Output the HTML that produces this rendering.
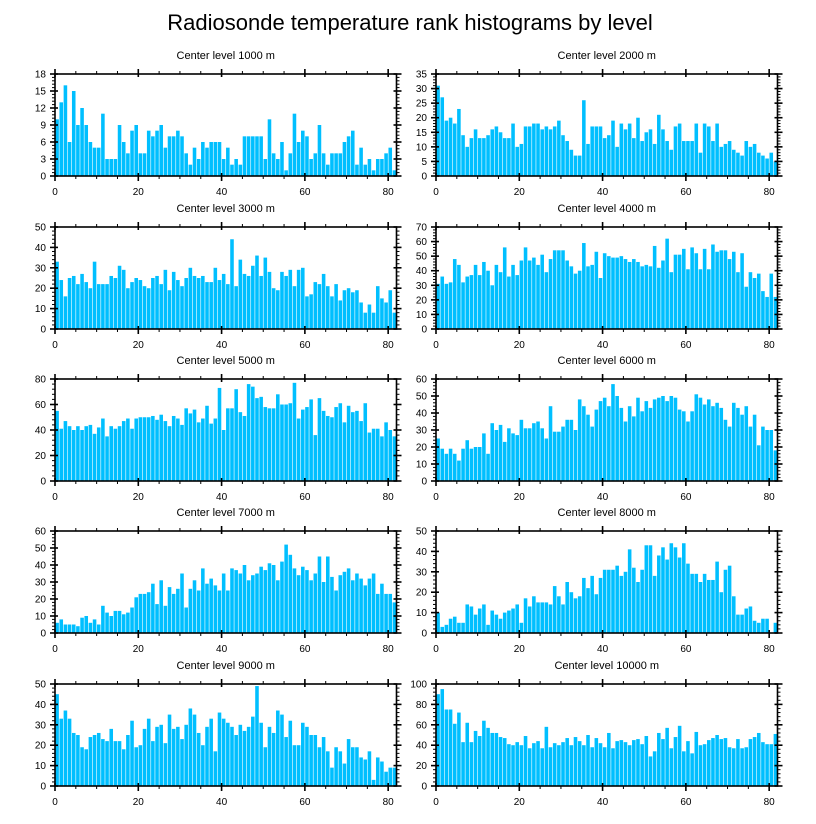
<!DOCTYPE html>
<html><head><meta charset="utf-8"><style>
body{margin:0;background:#fff;}
svg{display:block;font-family:"Liberation Sans",Arial,sans-serif;}
</style></head><body>
<svg id="chart" width="816" height="824" viewBox="0 0 816 824" xmlns="http://www.w3.org/2000/svg">
<text x="410" y="30" font-size="22" text-anchor="middle">Radiosonde temperature rank histograms by level</text>
</svg>
<script>
const levels = ["1000","2000","3000","4000","5000","6000","7000","8000","9000","10000"];
const yMaxes = [18,35,50,70,80,60,60,50,50,100];
const ySteps = [3,5,10,10,20,10,10,10,10,20];
const xTicks = [0,20,40,60,80];
const c1000 = [10,13,16,6,15,9,12,9,6,5,5,11,3,3,3,9,6,4,8,9,4,4,8,7,8,9,5,7,7,8,7,4,2,5,3,6,5,6,6,6,3,5,2,3,2,7,7,7,7,7,3,10,4,3,6,1,4,11,6,8,7,3,4,9,4,2,4,4,4,6,7,8,2,5,2,3,1,3,3,4,5,1];
const c2000 = [31,27,19,20,18,23,14,10,13,16,13,13,14,16,17,15,13,13,18,10,11,17,17,18,18,16,17,16,17,19,14,12,9,7,7,26,11,17,17,17,13,14,19,10,18,16,18,13,20,12,15,16,11,21,16,12,9,17,18,12,12,12,18,8,18,17,12,18,10,11,12,9,8,7,12,10,11,8,7,6,8,5];
const c3000 = [33,24,16,25,26,22,27,23,20,33,22,22,22,26,25,31,29,20,23,25,24,21,20,25,26,22,29,19,28,24,21,25,30,26,25,26,23,23,30,24,27,22,44,21,34,27,26,31,36,26,35,28,20,19,28,26,29,21,29,30,16,17,23,22,27,21,16,22,14,19,20,18,19,13,8,12,8,21,15,13,19,8];
const c4000 = [31,36,31,32,48,44,32,36,37,44,37,46,40,30,44,39,56,36,44,37,47,56,47,49,44,51,39,48,54,54,54,47,43,38,40,59,43,44,53,35,52,50,49,49,50,48,46,48,46,43,44,43,57,42,47,62,39,51,51,55,41,56,52,41,55,41,58,53,54,54,48,53,39,52,29,39,35,38,26,22,38,22];
const c5000 = [55,41,47,43,40,43,40,43,44,37,42,49,35,43,41,43,47,49,41,49,50,50,50,51,48,52,47,43,51,49,44,57,53,56,46,49,59,45,49,73,40,57,57,72,54,51,76,74,65,66,58,57,57,68,60,60,61,77,49,56,58,64,36,65,55,51,50,58,61,46,59,54,55,47,61,38,41,41,35,46,40,35];
const c6000 = [25,19,16,19,16,12,19,24,19,20,20,28,16,34,30,33,23,31,28,27,36,31,31,34,35,31,25,44,29,29,32,36,36,30,48,44,39,32,42,47,49,44,57,50,43,35,44,38,49,41,47,43,48,49,50,47,50,49,42,41,35,41,51,49,45,48,44,46,43,36,32,46,43,39,44,32,39,21,32,30,30,18];
const c7000 = [6,8,5,5,5,4,9,10,6,8,5,16,12,10,13,13,11,12,15,21,23,23,24,29,17,31,16,27,23,26,35,15,26,31,25,38,29,32,28,25,35,25,38,37,35,40,31,34,35,39,37,41,40,31,42,52,46,38,34,39,37,31,35,45,30,45,33,25,34,36,38,31,35,32,28,32,35,23,29,23,23,18];
const c8000 = [10,3,4,7,8,5,5,14,13,9,12,14,4,11,9,7,10,11,12,14,5,17,13,18,15,15,15,14,23,18,14,25,20,17,18,27,22,28,19,27,31,31,31,33,28,30,41,32,25,31,43,43,28,38,42,36,44,42,37,44,34,29,29,25,29,26,26,35,20,31,33,18,9,9,12,13,6,5,7,7,0,5];
const c9000 = [45,33,37,33,26,25,19,18,24,25,26,23,22,28,22,22,18,25,32,19,20,28,33,22,29,30,21,35,28,29,23,30,38,35,26,20,29,33,17,36,33,31,29,25,30,27,29,34,49,31,19,29,26,37,35,24,32,20,20,31,29,25,25,19,24,17,9,19,17,11,23,19,19,14,13,17,3,14,12,7,9,9];
const c10000 = [90,95,75,75,61,72,43,62,43,54,49,64,57,52,52,48,47,41,40,43,40,49,37,42,44,37,58,38,42,40,43,47,40,48,44,40,50,38,47,42,38,52,37,44,45,43,40,45,46,41,49,29,34,52,46,57,37,48,59,34,44,32,53,40,41,45,47,50,46,47,38,37,46,37,38,46,48,52,43,41,41,51];
const counts = [c1000,c2000,c3000,c4000,c5000,c6000,c7000,c8000,c9000,c10000];

const NS = "http://www.w3.org/2000/svg";
const svg = document.getElementById('chart');
function mk(tag, attrs, parent){
  const e = document.createElementNS(NS, tag);
  for (const k in attrs) e.setAttribute(k, attrs[k]);
  parent.appendChild(e); return e;
}
const XMAX = 82, PW = 341.5, PH = 102;
const lefts = [55, 436];
const tops = [74, 227, 379, 531, 684];

counts.forEach((data, p) => {
  const L = lefts[p % 2], T = tops[Math.floor(p / 2)];
  const ymax = yMaxes[p], step = ySteps[p];
  const xs = v => L + v / XMAX * PW;
  const ys = v => T + PH - v / ymax * PH;
  const g = mk('g', {}, svg);
  
  
  const t = mk('text', {x: L + PW / 2, y: T - 15, 'font-size': 11, 'text-anchor': 'middle'}, g);
  
  
  t.textContent = 'Center level ' + levels[p] + ' m';
  data.forEach((v, i) => {
    if (v <= 0) return;
    const r = mk('rect', {x: xs(i) + 0.3, y: ys(v), width: xs(i + 1) - xs(i) - 0.6, height: ys(0) - ys(v), fill: '#00bfff'}, g);
    
    
  });
  const f = mk('rect', {x: L, y: T, width: PW, height: PH, fill: 'none', stroke: '#000', 'stroke-width': 1.6}, g);
  
  
  for (let m = 0; m <= XMAX; m += 5) {
    const x = xs(m);
    const major = m % 20 === 0;
    const len = major ? 5 : 3;
    mk('line', {x1: x, x2: x, y1: T - len, y2: T + (major ? 3 : 0), stroke: '#000', 'stroke-width': major ? 1.6 : 1}, g);
    mk('line', {x1: x, x2: x, y1: T + PH - (major ? 3 : 0), y2: T + PH + len, stroke: '#000', 'stroke-width': major ? 1.6 : 1}, g);
  }
  xTicks.forEach(v => {
    const tx = mk('text', {x: xs(v), y: T + PH + 19, 'font-size': 10, 'text-anchor': 'middle'}, g);
    
    
    tx.textContent = v;
  });
  const minor = step / 5;
  for (let k = 0; k <= Math.round(ymax / minor); k++) {
    const v = k * minor, y = ys(v);
    const major = k % 5 === 0;
    const len = major ? 5 : 3;
    mk('line', {x1: L - len, x2: L + (major ? 3 : 0), y1: y, y2: y, stroke: '#000', 'stroke-width': major ? 1.6 : 1}, g);
    mk('line', {x1: L + PW - (major ? 3 : 0), x2: L + PW + len, y1: y, y2: y, stroke: '#000', 'stroke-width': major ? 1.6 : 1}, g);
  }
  for (let v = 0; v <= ymax; v += step) {
    const ty = mk('text', {x: L - 9, y: ys(v) + 3.5, 'font-size': 10, 'text-anchor': 'end'}, g);
    
    
    ty.textContent = v;
  }
});
</script>
</body></html>
